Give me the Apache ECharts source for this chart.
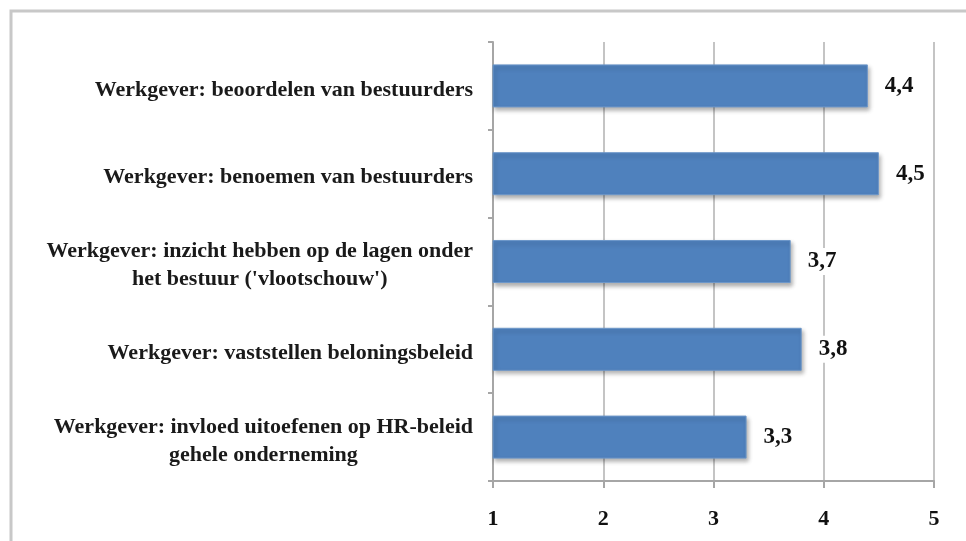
<!DOCTYPE html>
<html>
<head>
<meta charset="utf-8">
<script src="https://cdn.jsdelivr.net/npm/echarts@6/dist/echarts.min.js"></script>
<style>
  html, body { margin: 0; padding: 0; background: #fff; }
  #chart { width: 966px; height: 541px; }
</style>
</head>
<body>
<div id="chart"></div>
<script>
const categories = [
  'Werkgever: beoordelen van bestuurders',
  'Werkgever: benoemen van bestuurders',
  "Werkgever: inzicht hebben op de lagen onder\nhet bestuur ('vlootschouw')",
  'Werkgever: vaststellen beloningsbeleid',
  'Werkgever: invloed uitoefenen op HR-beleid\ngehele onderneming'
]
const values = [4.4, 4.5, 3.7, 3.8, 3.3]
const xTicks = [1, 2, 3, 4, 5]

const serif = '"Liberation Serif", "DejaVu Serif", serif'
const chart = echarts.init(document.getElementById('chart'))

chart.setOption({
  backgroundColor: '#fff',
  animation: false,
  graphic: [
    {
      type: 'rect',
      shape: { x: 11, y: 11, width: 1000, height: 1000 },
      style: { fill: 'none', stroke: '#c8c8c8', lineWidth: 3 },
      silent: true
    }
  ],
  grid: {
    left: 493,
    right: 32,
    top: 42,
    bottom: 60
  },
  xAxis: {
    type: 'value',
    min: xTicks[0],
    max: xTicks[xTicks.length - 1],
    interval: 1,
    axisLine: { show: true, lineStyle: { color: '#a6a6a6', width: 2 } },
    axisTick: { show: true, length: 7, lineStyle: { color: '#a6a6a6', width: 2 } },
    axisLabel: {
      margin: 27,
      color: '#111',
      fontFamily: serif,
      fontWeight: 'bold',
      fontSize: 22
    },
    splitLine: { show: true, lineStyle: { color: '#c4c4c4', width: 2 } }
  },
  yAxis: {
    type: 'category',
    inverse: true,
    data: categories,
    axisLine: { show: true, lineStyle: { color: '#a6a6a6', width: 2 } },
    axisTick: { show: true, length: 5, lineStyle: { color: '#a6a6a6', width: 2 } },
    axisLabel: {
      margin: 20,
      align: 'right',
      padding: [8, 0, 0, 0],
      formatter: function(v) {
        // each line as a centred rich token, so a two-line label is centred
        return v.split('\n').map(function(s) { return '{c|' + s + '}' }).join('\n')
      },
      rich: {
        c: {
          align: 'center',
          color: '#1a1a1a',
          fontFamily: serif,
          fontWeight: 'bold',
          fontSize: 22,
          lineHeight: 28
        }
      }
    }
  },
  series: [
    {
      type: 'bar',
      data: values,
      barWidth: '49%',
      itemStyle: {
        color: '#4f81bd',
        borderColor: '#6d97c9',
        borderWidth: 1,
        shadowBlur: 4,
        shadowOffsetX: 2,
        shadowOffsetY: 3,
        shadowColor: 'rgba(0,0,0,0.3)'
      },
      label: {
        show: true,
        position: 'right',
        distance: 13,
        color: '#111',
        fontFamily: serif,
        fontWeight: 'bold',
        fontSize: 23,
        backgroundColor: '#fff',
        padding: [2, 4],
        formatter: function(p) {
          return String(p.value).replace('.', ',')
        }
      }
    }
  ]
})
</script>
</body>
</html>
